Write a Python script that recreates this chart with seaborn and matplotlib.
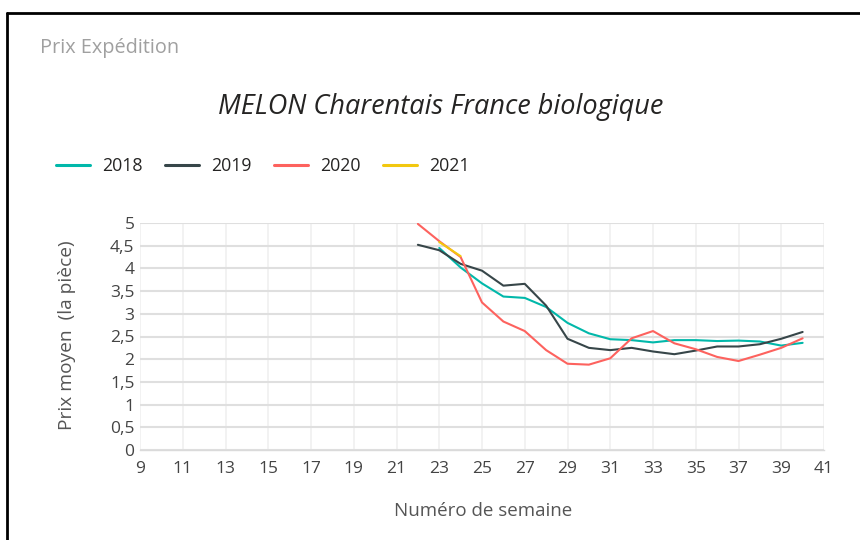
import numpy as np
import pandas as pd
import matplotlib
matplotlib.use("Agg")
import matplotlib.pyplot as plt
import seaborn as sns
from matplotlib.ticker import FixedLocator, FuncFormatter
from matplotlib.lines import Line2D

# ---- data ----
weeks_2018 = list(range(23, 41))
prix_2018 = [4.45, 4.02, 3.67, 3.38, 3.35, 3.15, 2.80, 2.57, 2.44, 2.42, 2.37,
             2.42, 2.42, 2.40, 2.41, 2.39, 2.30, 2.36]
weeks_2019 = list(range(22, 41))
prix_2019 = [4.52, 4.40, 4.10, 3.95, 3.62, 3.66, 3.18, 2.45, 2.25, 2.20, 2.25,
             2.17, 2.11, 2.19, 2.28, 2.28, 2.33, 2.45, 2.60]
weeks_2020 = list(range(22, 41))
prix_2020 = [4.98, 4.60, 4.25, 3.25, 2.83, 2.62, 2.20, 1.90, 1.88, 2.02, 2.46,
             2.62, 2.35, 2.22, 2.05, 1.96, 2.10, 2.25, 2.46]
weeks_2021 = [23, 24]
prix_2021 = [4.58, 4.27]

years = ["2018", "2019", "2020", "2021"]
colors = ["#01B8AA", "#374649", "#FD625E", "#F2C80F"]
x_ticks = list(range(9, 42, 2))
y_ticks = [0, 0.5, 1, 1.5, 2, 2.5, 3, 3.5, 4, 4.5, 5]

df = pd.concat([
    pd.DataFrame({"semaine": weeks_2018, "prix": prix_2018, "annee": "2018"}),
    pd.DataFrame({"semaine": weeks_2019, "prix": prix_2019, "annee": "2019"}),
    pd.DataFrame({"semaine": weeks_2020, "prix": prix_2020, "annee": "2020"}),
    pd.DataFrame({"semaine": weeks_2021, "prix": prix_2021, "annee": "2021"}),
], ignore_index=True)

sns.set_style("white")
FONT = ["Open Sans", "DejaVu Sans"]
plt.rcParams["font.family"] = FONT

fig = plt.figure(figsize=(8.6, 5.4), dpi=100)
ax = fig.add_axes([140 / 860, 1 - 450 / 540, 684 / 860, 227 / 540])

sns.lineplot(data=df, x="semaine", y="prix", hue="annee", hue_order=years,
             palette=dict(zip(years, colors)), linewidth=1.5, ax=ax,
             legend=False, sort=True)

ax.set_xlim(9, 41)
ax.set_ylim(0, 5)
ax.set_xticks(x_ticks)
ax.set_yticks(y_ticks)
ax.xaxis.set_minor_locator(FixedLocator(np.arange(9, 41.01, 0.4)))
ax.yaxis.set_major_formatter(FuncFormatter(lambda v, p: ("%g" % v).replace(".", ",")))

ax.grid(axis="y", color="#DFDFDF", linewidth=1.5)
ax.grid(axis="x", color="#F0F0F0", linewidth=1.2)
ax.set_axisbelow(True)
for s in ["top", "right", "left"]:
    ax.spines[s].set_visible(False)
ax.spines["bottom"].set_color("#DADADA")
ax.spines["bottom"].set_linewidth(1.0)
ax.tick_params(axis="both", which="major", length=0, labelsize=12.5,
               labelcolor="#444444")
ax.tick_params(axis="x", pad=8)
ax.tick_params(axis="y", pad=4)
ax.tick_params(axis="x", which="minor", length=3, color="#CFCFCF", width=0.8)

ax.set_xlabel("Numéro de semaine", fontsize=13.5, color="#555555", labelpad=10)
ax.set_ylabel("Prix moyen  (la pièce)", fontsize=13.8, color="#555555", labelpad=14)
ax.xaxis.set_label_coords(483 / 860, 1 - 511 / 540, transform=fig.transFigure)
ax.yaxis.set_label_coords(67 / 860, 1 - 335 / 540, transform=fig.transFigure)
ax.xaxis.label.set_va("center")
ax.yaxis.label.set_va("center")

# titles
fig.text(40 / 860, 1 - 48 / 540, "Prix Expédition", fontsize=14.3, color="#A0A0A0",
         ha="left", va="center")
fig.text(441 / 860, 1 - 107 / 540, "MELON Charentais France biologique", fontsize=19.5,
         style="italic", color="#252423", ha="center", va="center")

# legend
handles = [Line2D([0], [0], color=c, linewidth=2.2) for c in colors]
fig.legend(handles, years, loc="center left", bbox_to_anchor=(40 / 860, 1 - 166 / 540),
           ncol=4, frameon=False, fontsize=12.8, handlelength=1.9, handletextpad=0.7,
           columnspacing=1.25, labelcolor="#252423")

# frame border (top and left)
fig.add_artist(Line2D([7 / 860, 1.0], [1 - 13 / 540, 1 - 13 / 540], color="black",
                      linewidth=2, transform=fig.transFigure))
fig.add_artist(Line2D([7 / 860, 7 / 860], [1 - 13 / 540, 0.0], color="black",
                      linewidth=2, transform=fig.transFigure))

fig.savefig("out.png", dpi=100)
